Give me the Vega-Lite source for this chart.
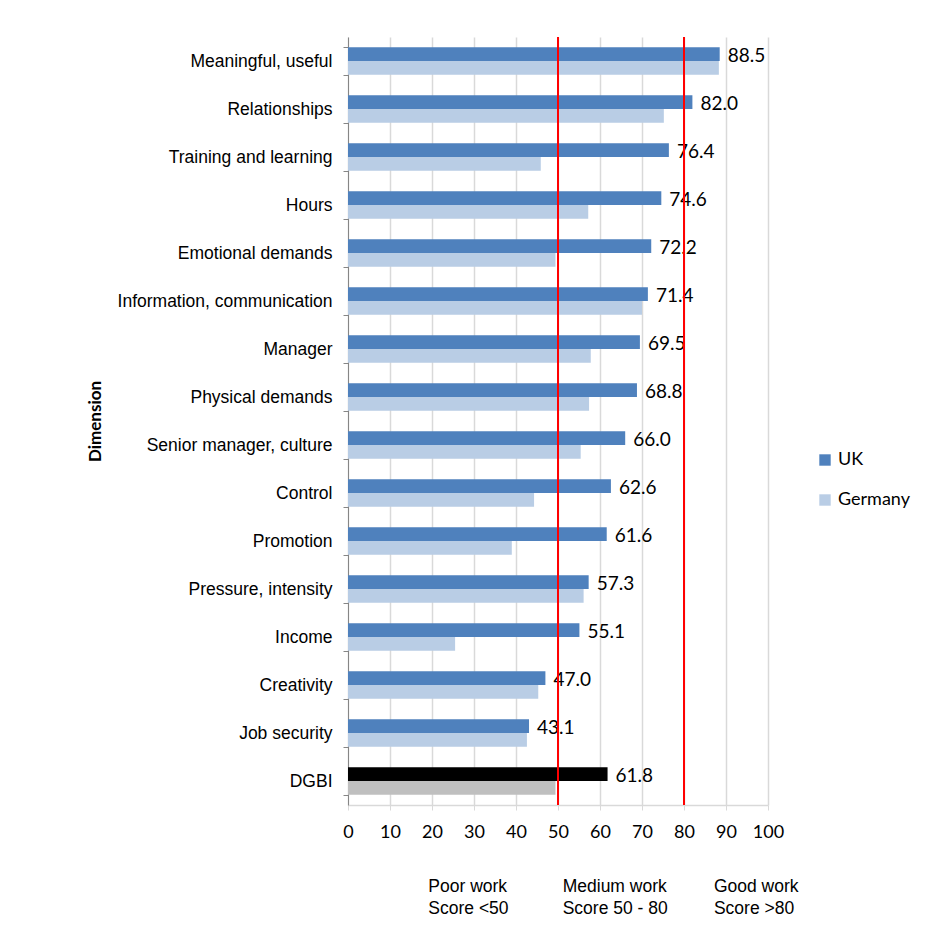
{
  "$schema": "https://vega.github.io/schema/vega-lite/v6.json",
  "width": 420,
  "height": 768,
  "padding": {"left": 86, "top": 28, "right": 5, "bottom": 5},
  "autosize": {"type": "pad"},
  "background": "white",
  "config": {
    "view": {"stroke": null},
    "font": "Liberation Sans"
  },
  "datasets": {
    "scores": [
      {"dimension": "Meaningful, useful", "country": "UK", "value": 88.5},
      {"dimension": "Meaningful, useful", "country": "Germany", "value": 88.3},
      {"dimension": "Relationships", "country": "UK", "value": 82.0},
      {"dimension": "Relationships", "country": "Germany", "value": 75.2},
      {"dimension": "Training and learning", "country": "UK", "value": 76.4},
      {"dimension": "Training and learning", "country": "Germany", "value": 45.9},
      {"dimension": "Hours", "country": "UK", "value": 74.6},
      {"dimension": "Hours", "country": "Germany", "value": 57.2},
      {"dimension": "Emotional demands", "country": "UK", "value": 72.2},
      {"dimension": "Emotional demands", "country": "Germany", "value": 49.4},
      {"dimension": "Information, communication", "country": "UK", "value": 71.4},
      {"dimension": "Information, communication", "country": "Germany", "value": 70.0},
      {"dimension": "Manager", "country": "UK", "value": 69.5},
      {"dimension": "Manager", "country": "Germany", "value": 57.8},
      {"dimension": "Physical demands", "country": "UK", "value": 68.8},
      {"dimension": "Physical demands", "country": "Germany", "value": 57.4},
      {"dimension": "Senior manager, culture", "country": "UK", "value": 66.0},
      {"dimension": "Senior manager, culture", "country": "Germany", "value": 55.4},
      {"dimension": "Control", "country": "UK", "value": 62.6},
      {"dimension": "Control", "country": "Germany", "value": 44.3},
      {"dimension": "Promotion", "country": "UK", "value": 61.6},
      {"dimension": "Promotion", "country": "Germany", "value": 39.0},
      {"dimension": "Pressure, intensity", "country": "UK", "value": 57.3},
      {"dimension": "Pressure, intensity", "country": "Germany", "value": 56.1},
      {"dimension": "Income", "country": "UK", "value": 55.1},
      {"dimension": "Income", "country": "Germany", "value": 25.5},
      {"dimension": "Creativity", "country": "UK", "value": 47.0},
      {"dimension": "Creativity", "country": "Germany", "value": 45.3},
      {"dimension": "Job security", "country": "UK", "value": 43.1},
      {"dimension": "Job security", "country": "Germany", "value": 42.6},
      {"dimension": "DGBI", "country": "UK", "value": 61.8},
      {"dimension": "DGBI", "country": "Germany", "value": 49.4}
    ],
    "bands": [
      {"threshold": 50},
      {"threshold": 80}
    ]
  },
  "layer": [
    {
      "data": {"name": "scores"},
      "mark": {"type": "bar"},
      "encoding": {
        "y": {
          "field": "dimension",
          "type": "nominal",
          "sort": null,
          "scale": {"paddingInner": 0.43, "paddingOuter": 0.215},
          "axis": {
            "title": "Dimension",
            "titleFont": "Lato",
            "titleFontSize": 17,
            "titleFontWeight": "bold",
            "titleColor": "black",
            "titlePadding": 44,
            "labelFont": "Liberation Sans",
            "labelFontSize": 17.5,
            "labelColor": "black",
            "labelPadding": 11,
            "labelLimit": 400,
            "domainColor": "#868686",
            "tickColor": "#868686",
            "tickSize": 5,
            "tickBand": "extent",
            "grid": false
          }
        },
        "yOffset": {
          "field": "country",
          "type": "nominal",
          "scale": {"domain": ["UK", "Germany"], "paddingInner": 0, "paddingOuter": 0}
        },
        "x": {
          "field": "value",
          "type": "quantitative",
          "scale": {"domain": [0, 100], "nice": false},
          "axis": {
            "title": null,
            "values": [0, 10, 20, 30, 40, 50, 60, 70, 80, 90, 100],
            "grid": true,
            "gridColor": "#D9D9D9",
            "gridWidth": 1.5,
            "domainColor": "#D9D9D9",
            "domainWidth": 1.5,
            "tickColor": "#D9D9D9",
            "tickSize": 5,
            "labelFont": "Lato",
            "labelFontSize": 18,
            "labelColor": "black",
            "labelPadding": 13,
            "labelFlush": false,
            "labelOverlap": false
          }
        },
        "color": {
          "condition": [
            {"test": "datum.dimension === 'DGBI' && datum.country === 'UK'", "value": "#000000"},
            {"test": "datum.dimension === 'DGBI' && datum.country === 'Germany'", "value": "#BFBFBF"}
          ],
          "field": "country",
          "type": "nominal",
          "scale": {"domain": ["UK", "Germany"], "range": ["#4F81BD", "#B9CDE5"]},
          "legend": {
            "title": null,
            "orient": "none",
            "legendX": 468,
            "legendY": 414,
            "padding": 0,
            "symbolType": "square",
            "symbolSize": 130,
            "symbolStrokeWidth": 0,
            "labelFont": "Lato",
            "labelFontSize": 18,
            "labelColor": "black",
            "rowPadding": 22
          }
        }
      }
    },
    {
      "data": {"name": "scores"},
      "transform": [{"filter": "datum.country === 'UK'"}],
      "mark": {"type": "text", "align": "left", "baseline": "middle", "dx": 8, "dy": -5, "font": "Lato", "fontSize": 19, "color": "black"},
      "encoding": {
        "y": {"field": "dimension", "type": "nominal", "sort": null},
        "x": {"field": "value", "type": "quantitative", "axis": null},
        "text": {"field": "value", "type": "quantitative", "format": ".1f"}
      }
    },
    {
      "data": {"name": "bands"},
      "mark": {"type": "rule", "color": "#FF0000", "strokeWidth": 2},
      "encoding": {
        "x": {
          "field": "threshold",
          "type": "quantitative",
          "axis": {
            "orient": "bottom",
            "title": null,
            "offset": 72,
            "domain": false,
            "ticks": false,
            "tickSize": 0,
            "grid": false,
            "values": [19, 51, 87],
            "labelExpr": "datum.value === 19 ? ['Poor work', 'Score <50'] : datum.value === 51 ? ['Medium work', 'Score 50 - 80'] : ['Good work', 'Score >80']",
            "labelAlign": "left",
            "labelBaseline": "top",
            "labelFont": "Liberation Sans",
            "labelFontSize": 17.5,
            "labelLineHeight": 22,
            "labelColor": "black",
            "labelPadding": 0,
            "labelFlush": false,
            "labelOverlap": false
          }
        }
      }
    }
  ],
  "resolve": {"axis": {"x": "independent"}}
}
